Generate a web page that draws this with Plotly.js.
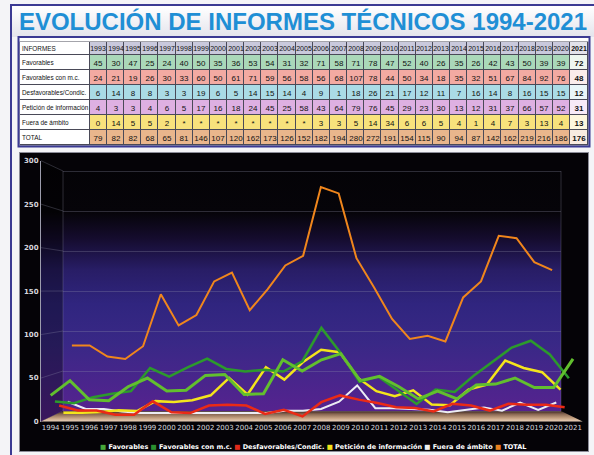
<!DOCTYPE html>
<html><head><meta charset="utf-8">
<script src="https://cdn.plot.ly/plotly-3.0.1.min.js"></script>
<style>
html,body{margin:0;padding:0;background:#f4f4f7;}
#wrap{position:relative;width:594px;height:455px;overflow:hidden;}
#bg{position:absolute;left:0;top:0;}
#chart{position:absolute;left:0;top:0;width:594px;height:455px;}
</style></head><body>
<div id="wrap"><svg id="bg" width="594" height="455" xmlns="http://www.w3.org/2000/svg"></svg><div id="chart"></div></div>
<script>
// ---------------- DATA ----------------
const years = ['1993','1994','1995','1996','1997','1998','1999','2000','2001','2002','2003','2004','2005','2006','2007','2008','2009','2010','2011','2012','2013','2014','2015','2016','2017','2018','2019','2020','2021'];
const headerLabel = 'INFORMES';
const rowLabels = ['Favorables','Favorables con m.c.','Desfavorables/Condic.','Petición de información','Fuera de ámbito','TOTAL'];
const favorables          = [45,30,47,25,24,40,50,35,36,53,54,31,32,71,58,71,78,47,52,40,26,35,26,42,43,50,39,39,72];
const favorablesMC        = [24,21,19,26,30,33,60,50,61,71,59,56,58,56,68,107,78,44,50,34,18,35,32,51,67,84,92,76,48];
const desfavorables       = [6,14,8,8,3,3,19,6,5,14,15,14,4,9,1,18,26,21,17,12,11,7,16,14,8,16,15,15,12];
const peticionInformacion = [4,3,3,4,6,5,17,16,18,24,45,25,58,43,64,79,76,45,29,23,30,13,12,31,37,66,57,52,31];
const fueraDeAmbito       = [0,14,5,5,2,'*','*','*','*','*','*','*','*',3,3,5,14,34,6,6,5,4,1,4,7,3,13,4,13];
const total               = [79,82,82,68,65,81,146,107,120,162,173,126,152,182,194,280,272,191,154,115,90,94,87,142,162,219,216,186,176];
const chartYears = years.slice(1);           // chart shows 1994-2021
const yTicks = [0,50,100,150,200,250,300];

// ---------------- GEOMETRY / STYLE ----------------
const W = 594, H = 455;
const FRONT = {xl:41, xr:582.7, y0:421.5, y1:160.7};
const BACK  = {xl:63, xr:561,   y0:411,   y1:171};
const YMAX = 300;
function geom(d){
  const l=(a,b)=>a+(b-a)*d;
  return {xl:l(FRONT.xl,BACK.xl), xr:l(FRONT.xr,BACK.xr), y0:l(FRONT.y0,BACK.y0), y1:l(FRONT.y1,BACK.y1)};
}
const TFONT = '"Liberation Sans",Arial,sans-serif';
const gridColor = 'rgba(150,150,175,0.28)';
const TABLE = {x0:20, x1:588, y0:42, y1:145};
const labelColW = 70, yearColW = 17.2, lastColW = 18;
const headerH = 13, rowH = 15;

// ---------------- BACKGROUND (decoration) ----------------
(function(){
  const svg = document.getElementById('bg');
  const f=FRONT,b=BACK;
  const yf=v=>f.y0-(f.y0-f.y1)*v/YMAX, yb=v=>b.y0-(b.y0-b.y1)*v/YMAX;
  let s = `<defs>
   <linearGradient id="tg" x1="0" y1="0" x2="0" y2="1"><stop offset="0" stop-color="#ffffff"/><stop offset="1" stop-color="#e4e4ec"/></linearGradient>
   <linearGradient id="wall" gradientUnits="userSpaceOnUse" x1="0" y1="160" x2="0" y2="422">
     <stop offset="0" stop-color="#040306"/><stop offset="0.2" stop-color="#060409"/>
     <stop offset="0.3" stop-color="#150c2e"/><stop offset="0.42" stop-color="#281d66"/>
     <stop offset="0.55" stop-color="#30257f"/><stop offset="0.7" stop-color="#392886"/>
     <stop offset="0.85" stop-color="#4a258c"/><stop offset="1" stop-color="#5a2290"/>
   </linearGradient>
   <linearGradient id="floor" gradientUnits="userSpaceOnUse" x1="0" y1="${b.y0}" x2="0" y2="${f.y0}">
     <stop offset="0" stop-color="#3a2520"/><stop offset="0.3" stop-color="#8a6852"/>
     <stop offset="0.7" stop-color="#c9a585"/><stop offset="1" stop-color="#e8d0ba"/>
   </linearGradient></defs>`;
  s += `<rect x="12" y="6" width="582" height="31" fill="url(#tg)"/>`;
  s += `<rect x="10" y="4" width="2" height="451" fill="#3b3a93"/><rect x="10" y="4" width="584" height="2" fill="#3b3a93"/>`;
  s += `<rect x="19.5" y="38" width="569.5" height="108" fill="#ffffff"/>`;
  s += `<rect x="${TABLE.x0-0.5}" y="${TABLE.y0-0.5}" width="${TABLE.x1-TABLE.x0+1}" height="${TABLE.y1-TABLE.y0+1}" fill="#4a4a58"/>`;
  s += `<rect x="18.5" y="37" width="571" height="109.5" fill="none" stroke="#3b3a93" stroke-width="2"/>`;
  s += `<rect x="19.5" y="152.5" width="569" height="299" fill="#050307" stroke="#8c8c98" stroke-width="1"/>`;
  s += `<polygon points="${b.xl},${b.y1} ${b.xr},${b.y1} ${b.xr},${b.y0} ${b.xl},${b.y0}" fill="url(#wall)"/>`;
  s += `<polygon points="${f.xl},${f.y1} ${b.xl},${b.y1} ${b.xl},${b.y0} ${f.xl},${f.y0}" fill="url(#wall)"/>`;
  s += `<polygon points="${f.xl},${f.y1} ${b.xl},${b.y1} ${b.xl},${b.y0} ${f.xl},${f.y0}" fill="rgba(0,0,0,0.35)"/>`;
  yTicks.forEach(v=>{ s += `<line x1="${f.xl}" y1="${yf(v)}" x2="${b.xl}" y2="${yb(v)}" stroke="${gridColor}" stroke-width="1"/>`; });
  s += `<line x1="${b.xl}" y1="${b.y1}" x2="${b.xl}" y2="${b.y0}" stroke="${gridColor}"/>`;
  s += `<line x1="${b.xr}" y1="${b.y1}" x2="${b.xr}" y2="${b.y0}" stroke="${gridColor}"/>`;
  s += `<polygon points="${f.xl},${f.y0} ${b.xl},${b.y0} ${b.xr},${b.y0} ${f.xr},${f.y0}" fill="url(#floor)"/>`;
  svg.innerHTML = s;
})();

// ---------------- SERIES ----------------
const seriesDefs = [
  {name:'TOTAL', values:total, color:'#f0861c', legend:'#e8801e', width:2, depth:1},
  {name:'Fuera de ámbito', values:fueraDeAmbito, color:'#ececf4', legend:'#f0f0f0', width:2, depth:0.8},
  {name:'Petición de información', values:peticionInformacion, color:'#f4e41c', legend:'#f2e21a', width:2.5, depth:0.6},
  {name:'Desfavorables/Condic.', values:desfavorables, color:'#ea2a16', legend:'#e02a1a', width:2.5, depth:0.4},
  {name:'Favorables con m.c.', values:favorablesMC, color:'#2c9a2c', legend:'#2b9030', width:2.5, depth:0.2},
  {name:'Favorables', values:favorables, color:'#62bf2e', legend:'#46a83a', width:3, depth:0}
];

const traces = [];
const layout = {
  width:W, height:H, margin:{l:0,r:0,t:0,b:0},
  paper_bgcolor:'rgba(0,0,0,0)', plot_bgcolor:'rgba(0,0,0,0)',
  showlegend:false,
  title:{text:'EVOLUCIÓN DE INFORMES TÉCNICOS 1994-2021', x:303/W, xanchor:'center', y:1-22/H, yanchor:'middle', yref:'container',
         font:{family:TFONT, size:24, color:'#1f8fd5', weight:'bold'}},
  annotations:[], shapes:[]
};

seriesDefs.forEach((sd,i)=>{
  const id = i===0 ? '' : String(i+1);
  const g = geom(sd.depth);
  const pad = sd.depth>0 ? 4 : 0;
  const sc = (g.y0-g.y1)/YMAX;
  const isFront = sd.depth===0, isBack = sd.depth===1;
  traces.push({
    type:'scatter', mode:'lines', name:sd.name,
    x:chartYears, y:sd.values.slice(1).map(v=>v==='*'?0:v),
    xaxis:'x'+id, yaxis:'y'+id,
    line:{color:sd.color, width:sd.width}, hoverinfo:'x+y+name'
  });
  layout['xaxis'+id] = {
    domain:[g.xl/W, g.xr/W], anchor:'y'+id, type:'category', range:[-0.5, chartYears.length-0.5],
    showgrid:false, zeroline:false, showline:false, ticks:'', showticklabels:isFront,
    tickfont:{family:'"DejaVu Sans",sans-serif', size:7, color:'#d6d6dc'}, tickangle:0, fixedrange:true
  };
  layout['yaxis'+id] = {
    domain:[1-(g.y0+pad)/H, 1-(g.y1-pad)/H], anchor:'x'+id, range:[-pad/sc, YMAX+pad/sc],
    tickmode:'array', tickvals:yTicks, showticklabels:isFront, ticks:'',
    showgrid:isBack, gridcolor:gridColor, gridwidth:1, zeroline:false,
    showline:isFront, linecolor:'#9c9cac', linewidth:1,
    tickfont:{family:'"DejaVu Sans",sans-serif', size:7, color:'#d6d6dc', weight:'bold'}, fixedrange:true
  };
});

// custom legend (square markers, as in the original)
const legendOrder = seriesDefs.slice().reverse();
layout.annotations.push({
  xref:'paper', yref:'paper', x:313/W, y:1-447/H, xanchor:'center', yanchor:'middle', showarrow:false,
  text: legendOrder.map(s=>`<span style="color:${s.legend}">■</span> ${s.name}`).join(' '),
  font:{family:'"DejaVu Sans",sans-serif', size:6.5, color:'#ffffff', weight:'bold'}
});

// ---------------- TABLE (heatmap grids on their own axes) ----------------
const rows = [favorables, favorablesMC, desfavorables, peticionInformacion, fueraDeAmbito, total];
const palette = ['#ffffff','#c9c9dc','#e2e2ea',
  '#aad8b9','#f3aaa2','#aadbe6','#deb0e2','#f8e27c','#e9b68c',
  '#eef7f0','#fbeceb','#eaf6f9','#f7eaf8','#fdf7de','#f8ebe0'];
const colorscale = palette.map((c,k)=>[k/(palette.length-1), c]);
const colW = [labelColW].concat(years.map((y,j)=> j===years.length-1 ? lastColW : yearColW));
const rowHs = [headerH].concat(rows.map(()=>rowH));
const xEdges = colW.reduce((a,w)=>{a.push(a[a.length-1]+w); return a;}, [0]);
const yEdges = rowHs.reduce((a,h)=>{a.push(a[a.length-1]+h); return a;}, [0]);
const lastJ = years.length-1;
const bold = (t,j)=> j===lastJ ? '<b>'+t+'</b>' : String(t);
// header row
traces.push({
  type:'heatmap', x:xEdges, y:yEdges.slice(0,2),
  z:[[0].concat(years.map((y,j)=> j===lastJ ? 2 : 1))],
  text:[[''].concat(years.map(bold))], texttemplate:'%{text}',
  textfont:{family:TFONT, size:7, color:'#111111'},
  colorscale, zmin:0, zmax:palette.length-1, showscale:false, xgap:1, ygap:1, hoverinfo:'skip',
  xaxis:'x7', yaxis:'y7'
});
// body rows
traces.push({
  type:'heatmap', x:xEdges, y:yEdges.slice(1),
  z:rows.map((r,ri)=> [0].concat(years.map((y,j)=> j===lastJ ? 9+ri : 3+ri))),
  text:rows.map(r=> [''].concat(r.map(bold))), texttemplate:'%{text}',
  textfont:{family:TFONT, size:8, color:'#111111'},
  colorscale, zmin:0, zmax:palette.length-1, showscale:false, xgap:1, ygap:1, hoverinfo:'skip',
  xaxis:'x7', yaxis:'y7'
});
layout.xaxis7 = {domain:[TABLE.x0/W, TABLE.x1/W], range:[0, xEdges[xEdges.length-1]], anchor:'y7', visible:false, fixedrange:true};
layout.yaxis7 = {domain:[1-TABLE.y1/H, 1-TABLE.y0/H], range:[yEdges[yEdges.length-1], 0], anchor:'x7', visible:false, fixedrange:true};
[headerLabel].concat(rowLabels).forEach((t,k)=>{
  layout.annotations.push({xref:'x7', yref:'y7', x:1, y:(yEdges[k]+yEdges[k+1])/2, xanchor:'left', yanchor:'middle',
    borderpad:0, showarrow:false, text:t, font:{family:TFONT, size:6.4, color:'#111111'}});
});

Plotly.newPlot('chart', traces, layout, {displayModeBar:false});
</script>
</body></html>
